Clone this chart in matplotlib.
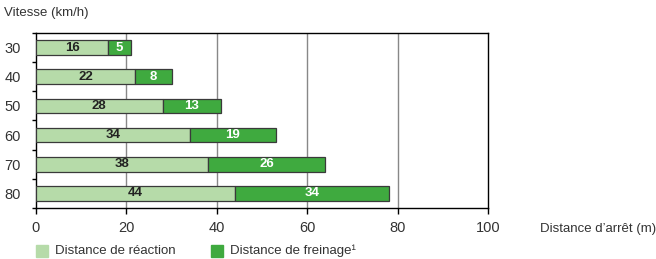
import matplotlib
matplotlib.use("Agg")
import matplotlib.pyplot as plt
import numpy as np
from matplotlib.patches import Rectangle

# values
speeds = ["30", "40", "50", "60", "70", "80"]
reaction = [16, 22, 28, 34, 38, 44]
braking = [5, 8, 13, 19, 26, 34]
xticks = [0, 20, 40, 60, 80, 100]

LIGHT = "#b6dba9"
DARK = "#3faa3f"
EDGE = "#3a3a3a"
TXT = "#333333"

plt.rcParams["font.family"] = ["Liberation Sans", "DejaVu Sans"]

fig = plt.figure(figsize=(6.56, 2.59), dpi=100)
ax = fig.add_axes([36 / 656, 1 - 208 / 259, (488 - 36) / 656, (208 - 33) / 259])

y = np.arange(len(speeds))
h = 0.5
ax.barh(y, reaction, height=h, color=LIGHT, edgecolor=EDGE, linewidth=0.9, zorder=3)
ax.barh(y, braking, left=reaction, height=h, color=DARK, edgecolor=EDGE, linewidth=0.9, zorder=3)

for i in range(len(speeds)):
    ax.text(reaction[i] / 2, y[i], str(reaction[i]), ha="center", va="center",
            fontsize=9.5, fontweight="bold", color="#222222", zorder=4)
    ax.text(reaction[i] + braking[i] / 2, y[i], str(braking[i]), ha="center", va="center",
            fontsize=9.5, fontweight="bold", color="white", zorder=4)

ax.set_xlim(0, 100)
ax.set_ylim(len(speeds) - 0.5, -0.5)
ax.set_xticks(xticks)
ax.set_xticklabels([str(v) for v in xticks], fontsize=10.5, color=TXT)
ax.set_yticks(y)
ax.set_yticklabels(speeds, fontsize=10.5, color=TXT)
ax.set_yticks(np.arange(len(speeds) + 1) - 0.5, minor=True)
ax.tick_params(axis="y", which="major", length=0, pad=11)
ax.tick_params(axis="y", which="minor", length=3, width=1, color="black")
ax.tick_params(axis="x", which="major", length=4, width=1, color="black", pad=5)

for v in xticks[1:-1]:
    ax.axvline(v, color="#888888", linewidth=1, zorder=1)
for s in ["top", "left", "bottom", "right"]:
    ax.spines[s].set_color("black")
    ax.spines[s].set_linewidth(1)

fig.text(4 / 656, 1 - 13 / 259, "Vitesse (km/h)", fontsize=9.5, color=TXT,
         ha="left", va="center")
fig.text(540 / 656, 1 - 229 / 259, "Distance d\u2019arr\u00eat (m)", fontsize=9.5,
         color=TXT, ha="left", va="center")

# legend below the axes
fig.patches.append(Rectangle((36 / 656, 1 - 257 / 259), 12 / 656, 12 / 259,
                             transform=fig.transFigure, color=LIGHT))
fig.text(55 / 656, 1 - 251 / 259, "Distance de r\u00e9action", fontsize=9.5,
         color=TXT, ha="left", va="center")
fig.patches.append(Rectangle((211 / 656, 1 - 257 / 259), 12 / 656, 12 / 259,
                             transform=fig.transFigure, color=DARK))
fig.text(230 / 656, 1 - 251 / 259, "Distance de freinage\u00b9", fontsize=9.5,
         color=TXT, ha="left", va="center")

fig.savefig("out.png", dpi=100)
